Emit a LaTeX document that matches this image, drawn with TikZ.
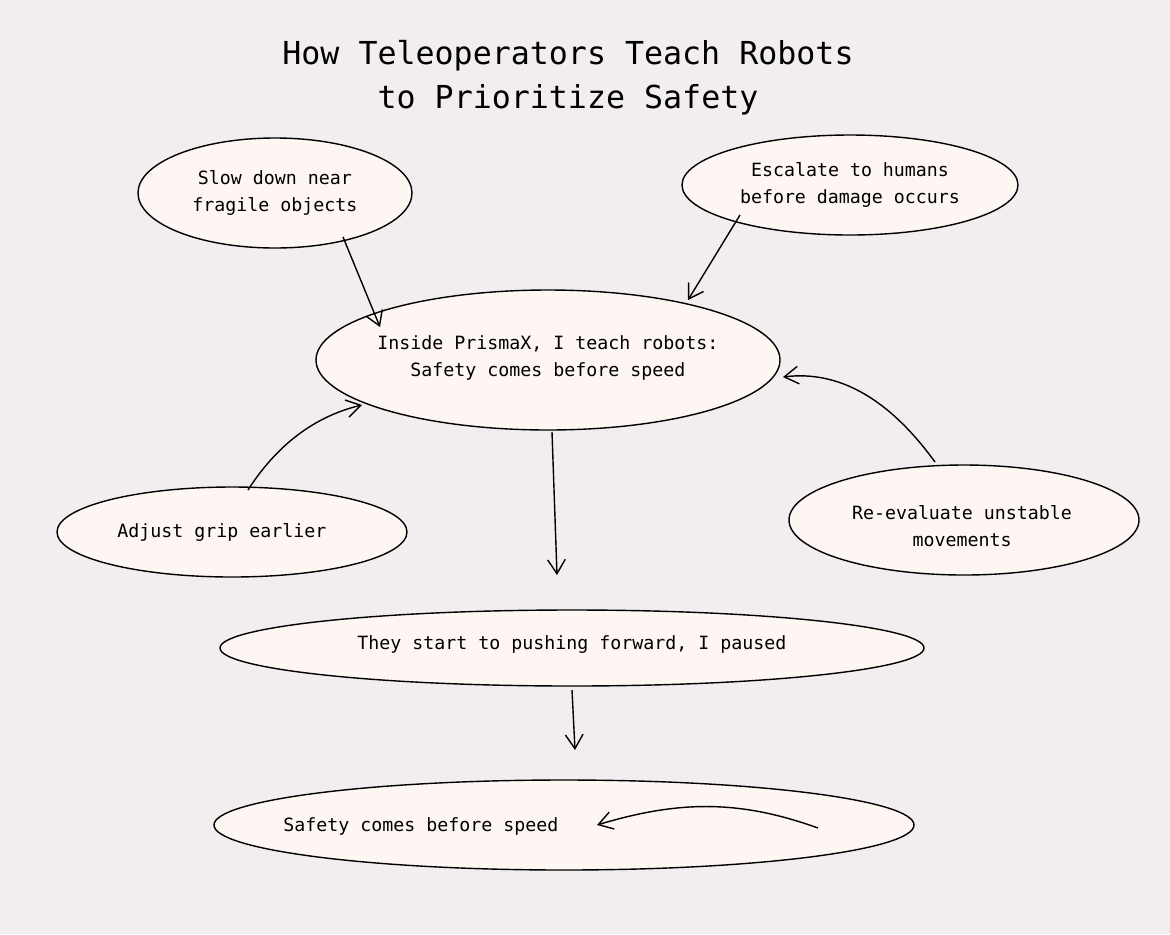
\documentclass[tikz,border=0pt]{standalone}
\usepackage{fontspec}
\setmainfont{DejaVu Sans Mono}
\usetikzlibrary{shapes.geometric,arrows.meta}
\definecolor{bgc}{HTML}{F2EEEF}\definecolor{fillc}{HTML}{FDF6F3}
\begin{document}
\begin{tikzpicture}[x=0.02cm,y=-0.02cm,
  elc/.style={line width=0.8pt,fill=fillc},
  lbl/.style={font=\fontsize{10.4}{15}\selectfont,align=center},
  arr/.style={-{Straight Barb[length=8pt,width=10pt]},line width=0.8pt}]
\fill[bgc] (0,0) rectangle (1170,934);
\useasboundingbox (0,0) rectangle (1170,934);
\node[font=\fontsize{18}{25}\selectfont,align=center] (title) at (568,78) {How Teleoperators Teach Robots\\to Prioritize Safety};
\draw[elc] (275,193) ellipse [x radius=137,y radius=55];
\node[lbl] (slow) at (275,193) {Slow down near\\fragile objects};
\draw[elc] (850,185) ellipse [x radius=168,y radius=50];
\node[lbl] (esc) at (850,185) {Escalate to humans\\before damage occurs};
\draw[elc] (548,360) ellipse [x radius=232,y radius=70];
\node[lbl] (inside) at (548,358) {Inside PrismaX, I teach robots:\\Safety comes before speed};
\draw[elc] (232,532) ellipse [x radius=175,y radius=45];
\node[lbl] (grip) at (222,532) {Adjust grip earlier};
\draw[elc] (964,520) ellipse [x radius=175,y radius=55];
\node[lbl] (reeval) at (962,526) {Re-evaluate unstable\\movements};
\draw[elc] (572,648) ellipse [x radius=352,y radius=38];
\node[lbl] (start) at (572,645) {They start to pushing forward, I paused};
\draw[elc] (564,825) ellipse [x radius=350,y radius=45];
\node[lbl] (safety) at (421,826) {Safety comes before speed};
\coordinate (a1) at (343,237); \coordinate (b1) at (380,327);
\coordinate (a2) at (740,215); \coordinate (b2) at (688,300);
\coordinate (a3) at (248,490); \coordinate (b3) at (362,405);
\coordinate (a4) at (935,462); \coordinate (b4) at (783,377);
\coordinate (a5) at (552,432); \coordinate (b5) at (557,575);
\coordinate (a6) at (572,690); \coordinate (b6) at (575,750);
\coordinate (a7) at (818,828); \coordinate (b7) at (597,825);
\draw[arr] (a1) -- (b1);
\draw[arr] (a2) -- (b2);
\draw[arr] (a3) .. controls (280,440) and (320,415) .. (b3);
\draw[arr] (a4) .. controls (890,400) and (840,370) .. (b4);
\draw[arr] (a5) -- (b5);
\draw[arr] (a6) -- (b6);
\draw[arr] (a7) .. controls (740,800) and (680,800) .. (b7);
\end{tikzpicture}
\end{document}
